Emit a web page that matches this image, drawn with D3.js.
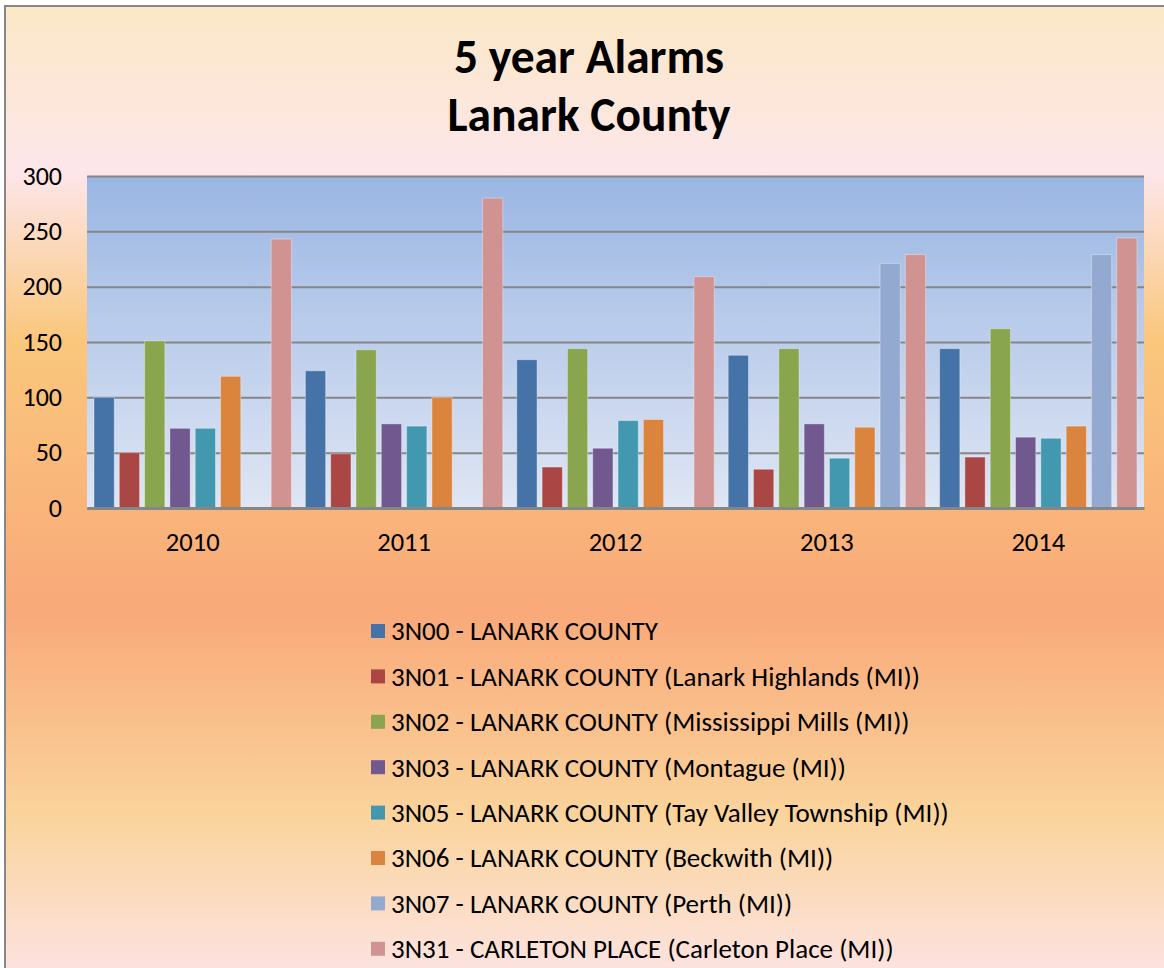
<!DOCTYPE html>
<html>
<head>
<meta charset="utf-8">
<script src="https://cdn.jsdelivr.net/npm/d3@7"></script>
<style>
  body { margin: 0; background: #fff; }
  svg { display: block; font-family: Calibri, Carlito, Lato, sans-serif; }
</style>
</head>
<body>
<div id="chart"></div>
<script>
// chart data
var years = ["2010", "2011", "2012", "2013", "2014"];
var seriesNames = [
  "3N00 - LANARK COUNTY",
  "3N01 - LANARK COUNTY (Lanark Highlands (MI))",
  "3N02 - LANARK COUNTY (Mississippi Mills (MI))",
  "3N03 - LANARK COUNTY (Montague (MI))",
  "3N05 - LANARK COUNTY (Tay Valley Township (MI))",
  "3N06 - LANARK COUNTY (Beckwith (MI))",
  "3N07 - LANARK COUNTY (Perth (MI))",
  "3N31 - CARLETON PLACE (Carleton Place (MI))"
];
var s3N00 = [100, 124, 134, 138, 144];
var s3N01 = [50, 49, 37, 35, 46];
var s3N02 = [151, 143, 144, 144, 162];
var s3N03 = [72, 76, 54, 76, 64];
var s3N05 = [72, 74, 79, 45, 63];
var s3N06 = [119, 100, 80, 73, 74];
var s3N07 = [null, null, null, 221, 229];
var s3N31 = [243, 280, 209, 229, 244];
var yTicks = [0, 50, 100, 150, 200, 250, 300];

var seriesValues = [s3N00, s3N01, s3N02, s3N03, s3N05, s3N06, s3N07, s3N31];
var colors = ["#4572A7", "#AA4643", "#89A54E", "#71588F", "#4198AF", "#DB843D", "#93A9CF", "#D19392"];

// set the dimensions
var W = 1164, H = 968;
var plot = {left: 87, right: 1144, top: 176, bottom: 508};
var fontStack = "Calibri, Carlito, Lato, sans-serif";

var svg = d3.select("#chart")
            .append("svg")
            .attr("width", W)
            .attr("height", H);

var defs = svg.append("defs");

// outer background gradient
var bg = defs.append("linearGradient")
             .attr("id", "bgGrad")
             .attr("x1", 0).attr("y1", 0).attr("x2", 0).attr("y2", 1);
[[0, "#FBE8C6"], [0.17, "#FDE6EA"], [0.34, "#FAC77C"], [0.62, "#F9A979"],
 [0.83, "#FAD49C"], [1, "#FDE4E6"]].forEach(function(s) {
  bg.append("stop").attr("offset", s[0]).attr("stop-color", s[1]);
});

// plot area gradient
var pg = defs.append("linearGradient")
             .attr("id", "plotGrad")
             .attr("x1", 0).attr("y1", 0).attr("x2", 0).attr("y2", 1);
pg.append("stop").attr("offset", 0).attr("stop-color", "#9AB6E3");
pg.append("stop").attr("offset", 1).attr("stop-color", "#DFE6F4");

// frame
svg.append("rect")
   .attr("x", 5).attr("y", 6)
   .attr("width", W + 10).attr("height", H + 10)
   .attr("fill", "url(#bgGrad)")
   .attr("stroke", "#878787")
   .attr("stroke-width", 2);

// title
var title = svg.append("text")
               .attr("text-anchor", "middle")
               .attr("font-weight", "bold")
               .style("font-size", "47.5px")
               .attr("fill", "#000");
title.append("tspan").attr("x", 589).attr("y", 73).text("5 year Alarms");
title.append("tspan").attr("x", 589).attr("y", 131).text("Lanark County");

// scales
var x0 = d3.scaleBand().domain(years).range([plot.left, plot.right]).padding(0);
var x1 = d3.scaleBand().domain(d3.range(seriesNames.length))
           .range([7, x0.bandwidth() - 7]).paddingInner(0.2);
var y = d3.scaleLinear().domain([0, 300]).range([plot.bottom, plot.top]);

// plot background
svg.append("rect")
   .attr("x", plot.left).attr("y", plot.top)
   .attr("width", plot.right - plot.left)
   .attr("height", plot.bottom - plot.top)
   .attr("fill", "url(#plotGrad)");

// y axis with gridlines
var yAxis = svg.append("g")
   .attr("transform", "translate(" + plot.left + ",0)")
   .call(d3.axisLeft(y).tickValues(yTicks).tickSize(-(plot.right - plot.left)).tickPadding(25));
yAxis.select(".domain").remove();
yAxis.selectAll("line").attr("stroke", "#868686").attr("stroke-width", 2);
yAxis.selectAll("text").attr("fill", "#000")
     .style("font-size", "26px").style("font-family", fontStack);

// bars
var groups = svg.selectAll(".year")
                .data(years)
                .enter()
                .append("g")
                .attr("class", "year")
                .attr("transform", function(d) { return "translate(" + x0(d) + ",0)"; });

groups.selectAll("rect")
      .data(function(d, i) {
        return seriesValues.map(function(vals, k) { return {k: k, v: vals[i]}; })
                           .filter(function(e) { return e.v != null; });
      })
      .enter()
      .append("rect")
      .attr("x", function(d) { return x1(d.k); })
      .attr("width", x1.bandwidth())
      .attr("y", function(d) { return y(d.v); })
      .attr("height", function(d) { return y(0) - y(d.v); })
      .attr("fill", function(d) { return colors[d.k]; })
      .attr("stroke", "rgba(255,255,255,0.35)")
      .attr("stroke-width", 1);

// x axis
var xAxis = svg.append("g")
   .attr("transform", "translate(0," + plot.bottom + ")")
   .call(d3.axisBottom(x0).tickSize(0).tickPadding(24));
xAxis.select(".domain").attr("stroke", "#868686").attr("stroke-width", 3);
xAxis.selectAll("text").attr("fill", "#000")
     .style("font-size", "26.5px").style("font-family", fontStack);

// legend
var legend = svg.selectAll(".legend")
                .data(seriesNames)
                .enter()
                .append("g")
                .attr("class", "legend")
                .attr("transform", function(d, i) { return "translate(371," + (631 + i * 45.4) + ")"; });

legend.append("rect")
      .attr("x", 0).attr("y", -7)
      .attr("width", 14).attr("height", 14)
      .attr("fill", function(d, i) { return colors[i]; });

legend.append("text")
      .attr("x", 20)
      .attr("dy", "0.35em")
      .style("font-size", "27px")
      .attr("fill", "#000")
      .text(function(d) { return d; });
</script>
</body>
</html>
